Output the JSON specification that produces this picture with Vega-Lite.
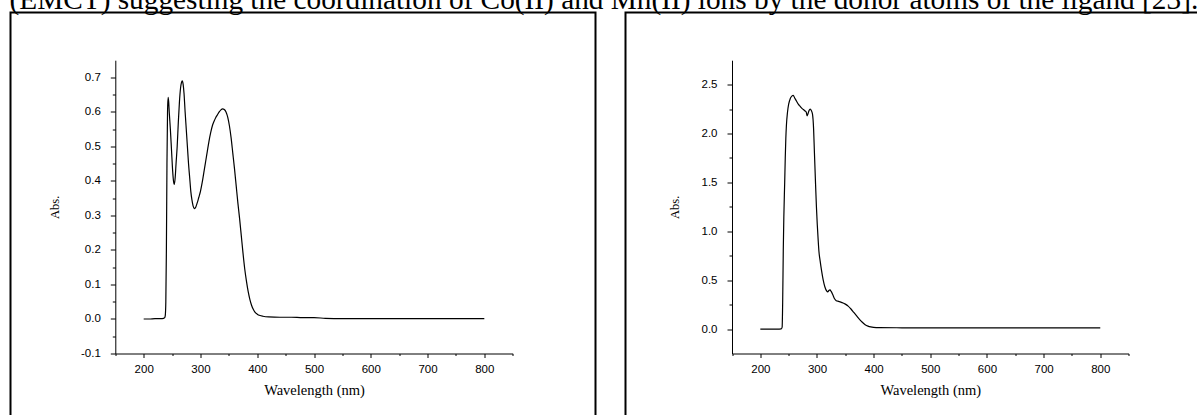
{
  "$schema": "https://vega.github.io/schema/vega-lite/v6.json",
  "padding": {"left": 9.5, "top": -14.5, "right": -10.5, "bottom": -9},
  "background": "white",
  "title": {
    "text": "(EMCT) suggesting the coordination of Co(II) and Mn(II) ions by the donor atoms of the ligand [23].",
    "anchor": "start",
    "frame": "bounds",
    "font": "Liberation Serif",
    "fontSize": 29.3,
    "fontWeight": "normal",
    "color": "black",
    "offset": -3.5
  },
  "spacing": 28,
  "config": {
    "view": {"stroke": "black", "strokeWidth": 2},
    "axis": {
      "grid": false,
      "domainColor": "black",
      "domainWidth": 1,
      "tickColor": "black",
      "tickWidth": 1,
      "labelColor": "black",
      "labelFont": "Liberation Sans",
      "labelFontSize": 11.5,
      "labelOverlap": false,
      "labelFlush": false,
      "titleFont": "Liberation Serif",
      "titleFontWeight": "normal",
      "titleColor": "black"
    },
    "axisX": {"titleFontSize": 14.5},
    "axisY": {"titleFontSize": 12.5},
    "line": {"color": "black", "strokeWidth": 1.2}
  },
  "datasets": {
    "co": [
      {"nm": 200, "abs": 0.0}, {"nm": 210, "abs": 0.0}, {"nm": 220, "abs": 0.001}, {"nm": 230, "abs": 0.001},
      {"nm": 235, "abs": 0.002}, {"nm": 237, "abs": 0.004}, {"nm": 238, "abs": 0.01}, {"nm": 239, "abs": 0.05},
      {"nm": 240, "abs": 0.2}, {"nm": 241, "abs": 0.45}, {"nm": 242, "abs": 0.6}, {"nm": 243, "abs": 0.642},
      {"nm": 244, "abs": 0.63}, {"nm": 245, "abs": 0.6}, {"nm": 247, "abs": 0.55}, {"nm": 249, "abs": 0.49},
      {"nm": 251, "abs": 0.43}, {"nm": 252.5, "abs": 0.4}, {"nm": 254, "abs": 0.39}, {"nm": 255.5, "abs": 0.41},
      {"nm": 257, "abs": 0.45}, {"nm": 259, "abs": 0.5}, {"nm": 261, "abs": 0.57}, {"nm": 263, "abs": 0.63},
      {"nm": 265, "abs": 0.67}, {"nm": 266.5, "abs": 0.685}, {"nm": 268, "abs": 0.69}, {"nm": 269.5, "abs": 0.68},
      {"nm": 271, "abs": 0.655}, {"nm": 273, "abs": 0.6}, {"nm": 275, "abs": 0.55}, {"nm": 277, "abs": 0.5},
      {"nm": 279, "abs": 0.45}, {"nm": 281, "abs": 0.41}, {"nm": 283, "abs": 0.37}, {"nm": 285, "abs": 0.345},
      {"nm": 287, "abs": 0.328}, {"nm": 289, "abs": 0.32}, {"nm": 291, "abs": 0.322}, {"nm": 293, "abs": 0.33},
      {"nm": 295, "abs": 0.34}, {"nm": 297, "abs": 0.352}, {"nm": 300, "abs": 0.37}, {"nm": 303, "abs": 0.395},
      {"nm": 306, "abs": 0.425}, {"nm": 309, "abs": 0.455}, {"nm": 312, "abs": 0.485}, {"nm": 315, "abs": 0.515},
      {"nm": 318, "abs": 0.54}, {"nm": 321, "abs": 0.56}, {"nm": 324, "abs": 0.573}, {"nm": 327, "abs": 0.584},
      {"nm": 330, "abs": 0.592}, {"nm": 333, "abs": 0.6}, {"nm": 336, "abs": 0.606}, {"nm": 339, "abs": 0.609},
      {"nm": 342, "abs": 0.607}, {"nm": 345, "abs": 0.6}, {"nm": 348, "abs": 0.585}, {"nm": 351, "abs": 0.56},
      {"nm": 354, "abs": 0.525}, {"nm": 357, "abs": 0.48}, {"nm": 360, "abs": 0.435}, {"nm": 363, "abs": 0.385},
      {"nm": 366, "abs": 0.335}, {"nm": 369, "abs": 0.29}, {"nm": 372, "abs": 0.24}, {"nm": 375, "abs": 0.19},
      {"nm": 378, "abs": 0.145}, {"nm": 381, "abs": 0.11}, {"nm": 384, "abs": 0.08}, {"nm": 387, "abs": 0.057},
      {"nm": 390, "abs": 0.04}, {"nm": 393, "abs": 0.028}, {"nm": 396, "abs": 0.02}, {"nm": 400, "abs": 0.014},
      {"nm": 405, "abs": 0.01}, {"nm": 410, "abs": 0.008}, {"nm": 420, "abs": 0.006}, {"nm": 440, "abs": 0.005},
      {"nm": 460, "abs": 0.005}, {"nm": 480, "abs": 0.004}, {"nm": 500, "abs": 0.004}, {"nm": 520, "abs": 0.002},
      {"nm": 550, "abs": 0.001}, {"nm": 600, "abs": 0.001}, {"nm": 650, "abs": 0.001}, {"nm": 700, "abs": 0.001},
      {"nm": 750, "abs": 0.001}, {"nm": 800, "abs": 0.001}
    ],
    "mn": [
      {"nm": 200, "abs": 0.0}, {"nm": 215, "abs": 0.0}, {"nm": 230, "abs": 0.0}, {"nm": 237, "abs": 0.002},
      {"nm": 238.5, "abs": 0.02}, {"nm": 239.5, "abs": 0.3}, {"nm": 240.5, "abs": 0.8}, {"nm": 241.5, "abs": 1.15},
      {"nm": 243, "abs": 1.5}, {"nm": 244, "abs": 1.75}, {"nm": 245, "abs": 1.95}, {"nm": 246, "abs": 2.08},
      {"nm": 248, "abs": 2.22}, {"nm": 250, "abs": 2.3}, {"nm": 253, "abs": 2.36}, {"nm": 256, "abs": 2.385},
      {"nm": 258, "abs": 2.39}, {"nm": 261, "abs": 2.36}, {"nm": 264, "abs": 2.33}, {"nm": 267, "abs": 2.3},
      {"nm": 270, "abs": 2.28}, {"nm": 273, "abs": 2.26}, {"nm": 276, "abs": 2.245}, {"nm": 279, "abs": 2.23},
      {"nm": 281, "abs": 2.22}, {"nm": 282.5, "abs": 2.18}, {"nm": 284, "abs": 2.2}, {"nm": 286, "abs": 2.235},
      {"nm": 288, "abs": 2.25}, {"nm": 290, "abs": 2.235}, {"nm": 292, "abs": 2.2}, {"nm": 294, "abs": 2.05},
      {"nm": 295.5, "abs": 1.8}, {"nm": 297.5, "abs": 1.48}, {"nm": 299, "abs": 1.25}, {"nm": 300.5, "abs": 1.07},
      {"nm": 302, "abs": 0.92}, {"nm": 303.5, "abs": 0.79}, {"nm": 305.5, "abs": 0.7}, {"nm": 308, "abs": 0.6},
      {"nm": 311, "abs": 0.5}, {"nm": 314, "abs": 0.43}, {"nm": 317, "abs": 0.39}, {"nm": 319, "abs": 0.38},
      {"nm": 321, "abs": 0.395}, {"nm": 323, "abs": 0.4}, {"nm": 325, "abs": 0.385}, {"nm": 328, "abs": 0.35},
      {"nm": 331, "abs": 0.31}, {"nm": 334, "abs": 0.29}, {"nm": 338, "abs": 0.283}, {"nm": 342, "abs": 0.276},
      {"nm": 346, "abs": 0.267}, {"nm": 350, "abs": 0.255}, {"nm": 355, "abs": 0.235}, {"nm": 360, "abs": 0.205},
      {"nm": 365, "abs": 0.17}, {"nm": 370, "abs": 0.135}, {"nm": 375, "abs": 0.1}, {"nm": 380, "abs": 0.07},
      {"nm": 385, "abs": 0.045}, {"nm": 390, "abs": 0.03}, {"nm": 395, "abs": 0.022}, {"nm": 400, "abs": 0.018},
      {"nm": 410, "abs": 0.015}, {"nm": 450, "abs": 0.013}, {"nm": 500, "abs": 0.012}, {"nm": 600, "abs": 0.012},
      {"nm": 700, "abs": 0.012}, {"nm": 800, "abs": 0.012}
    ]
  },
  "hconcat": [
    {
      "width": 585,
      "height": 412,
      "data": {"name": "co"},
      "mark": {"type": "line", "interpolate": "monotone"},
      "encoding": {
        "x": {
          "field": "nm", "type": "quantitative",
          "scale": {"domain": [150, 850], "range": [104.8, 502.2], "zero": false, "nice": false},
          "axis": {
            "title": "Wavelength (nm)",
            "offset": -71,
            "values": [150, 200, 250, 300, 350, 400, 450, 500, 550, 600, 650, 700, 750, 800, 850],
            "labelExpr": "datum.value % 100 === 0 ? datum.label : ''",
            "tickSize": {"condition": {"test": "datum.value % 100 === 0", "value": 4}, "value": 2},
            "labelPadding": 5.6,
            "titlePadding": 9.2
          }
        },
        "y": {
          "field": "abs", "type": "quantitative",
          "scale": {"domain": [-0.1, 0.75], "range": [341, 47.7], "zero": false, "nice": false},
          "axis": {
            "title": "Abs.",
            "offset": -104.8,
            "values": [-0.1, -0.05, 0, 0.05, 0.1, 0.15, 0.2, 0.25, 0.3, 0.35, 0.4, 0.45, 0.5, 0.55, 0.6, 0.65, 0.7],
            "labelExpr": "round(datum.value * 20) % 2 === 0 ? replace(format(datum.value, '.1f'), '\u2212', '-') : ''",
            "tickSize": {"condition": {"test": "round(datum.value * 20) % 2 === 0", "value": 5}, "value": 3},
            "labelPadding": 10,
            "titlePadding": 19
          }
        }
      }
    },
    {
      "width": 585,
      "height": 412,
      "data": {"name": "mn"},
      "mark": {"type": "line", "interpolate": "monotone"},
      "encoding": {
        "x": {
          "field": "nm", "type": "quantitative",
          "scale": {"domain": [150, 850], "range": [106.5, 503.1], "zero": false, "nice": false},
          "axis": {
            "title": "Wavelength (nm)",
            "offset": -71,
            "values": [150, 200, 250, 300, 350, 400, 450, 500, 550, 600, 650, 700, 750, 800, 850],
            "labelExpr": "datum.value % 100 === 0 ? datum.label : ''",
            "tickSize": {"condition": {"test": "datum.value % 100 === 0", "value": 4}, "value": 2},
            "labelPadding": 5.6,
            "titlePadding": 9.2
          }
        },
        "y": {
          "field": "abs", "type": "quantitative",
          "scale": {"domain": [-0.25, 2.75], "range": [341, 47.7], "zero": false, "nice": false},
          "axis": {
            "title": "Abs.",
            "offset": -106.5,
            "values": [0, 0.25, 0.5, 0.75, 1, 1.25, 1.5, 1.75, 2, 2.25, 2.5],
            "labelExpr": "round(datum.value * 4) % 2 === 0 ? format(datum.value, '.1f') : ''",
            "tickSize": {"condition": {"test": "round(datum.value * 4) % 2 === 0", "value": 5}, "value": 3},
            "labelPadding": 10,
            "titlePadding": 19.5
          }
        }
      }
    }
  ]
}
